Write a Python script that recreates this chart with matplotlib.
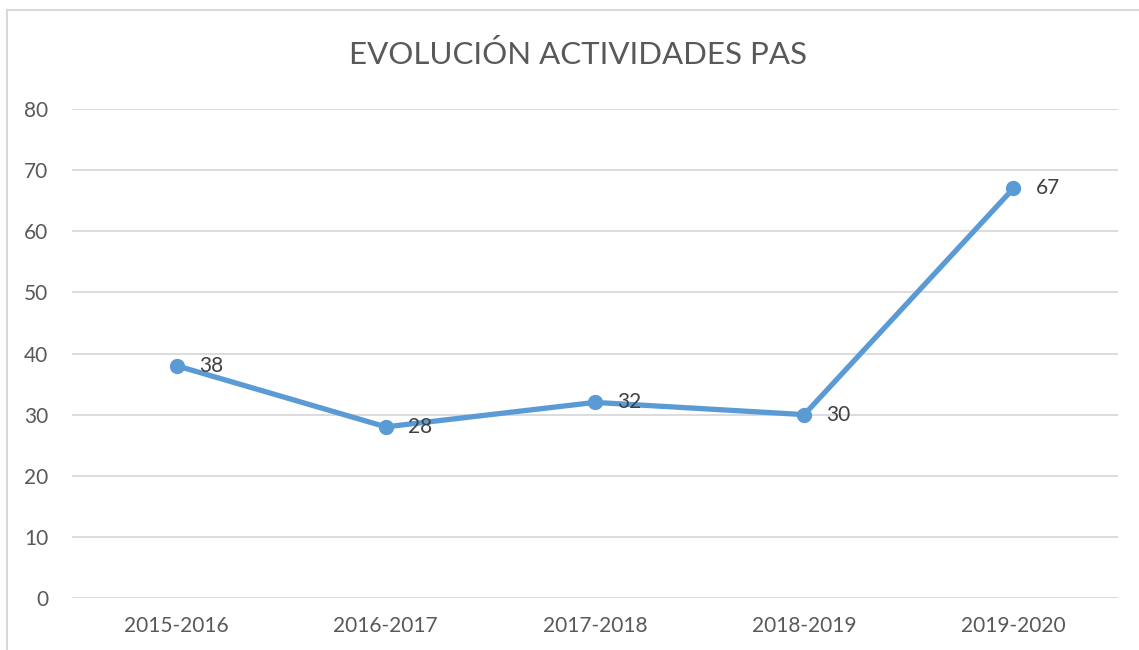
import matplotlib.pyplot as plt
from matplotlib.patches import Rectangle

# data
periods = ["2015-2016", "2016-2017", "2017-2018", "2018-2019", "2019-2020"]
actividades = [38, 28, 32, 30, 67]
y_ticks = [0, 10, 20, 30, 40, 50, 60, 70, 80]

plt.rcParams['font.family'] = ['Lato', 'DejaVu Sans']

fig = plt.figure(figsize=(11.39, 6.5), dpi=100)
ax = fig.add_axes([72 / 1139, 1 - 598 / 650, 1046 / 1139, 489 / 650])

# chart border (cut off on the right and bottom like the original)
fig.patches.append(Rectangle((7 / 1139, -0.1), 1.2, 0.1 + (650 - 10) / 650,
                             transform=fig.transFigure, fill=False,
                             edgecolor='#D9D9D9', linewidth=1.5))

x = list(range(len(periods)))
ax.plot(x, actividades, color='#5B9BD5', linewidth=3.8, marker='o',
        markersize=10, solid_capstyle='round', zorder=3)

# data labels to the right of each point
for xi, v in zip(x, actividades):
    ax.annotate(str(v), (xi, v), xytext=(16, 0), textcoords='offset points',
                ha='left', va='center', fontsize=15, color='#404040')

ax.set_xlim(-0.5, 4.5)
ax.set_ylim(0, 80)
ax.set_yticks(y_ticks)
ax.set_xticks(x)
ax.set_xticklabels(periods)
ax.tick_params(axis='both', length=0, labelsize=15, colors='#595959')
ax.tick_params(axis='y', pad=17)
ax.tick_params(axis='x', pad=13)
ax.grid(axis='y', color='#D9D9D9', linewidth=1.3)
ax.set_axisbelow(True)
for s in ax.spines.values():
    s.set_visible(False)

fig.text(578 / 1139, 1 - 55 / 650, "EVOLUCIÓN ACTIVIDADES PAS", ha='center',
         va='center', fontsize=22.5, color='#595959')

fig.savefig("out.png", dpi=100)
